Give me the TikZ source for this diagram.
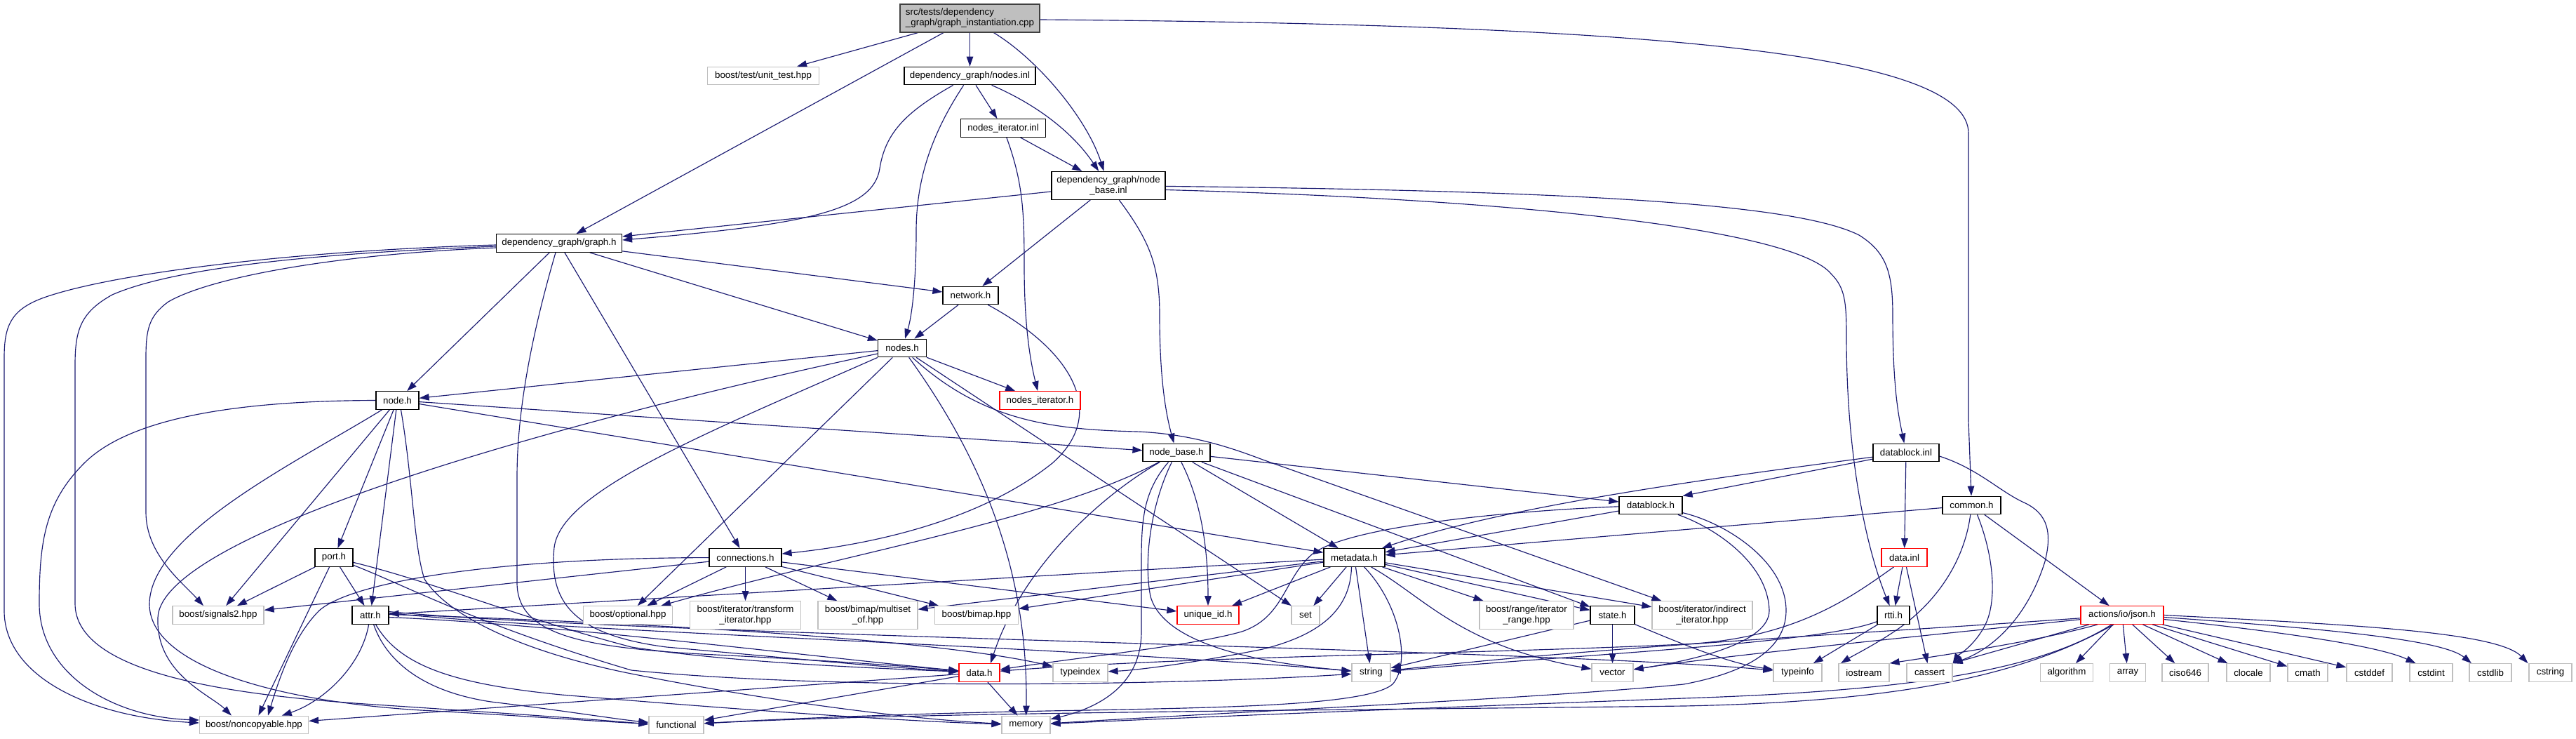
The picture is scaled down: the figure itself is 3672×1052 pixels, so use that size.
\documentclass[tikz,border=0pt]{standalone}
\usepackage{fontspec}
\setmainfont{Liberation Sans}
\usetikzlibrary{arrows.meta}
\definecolor{edgeblue}{HTML}{191970}
\definecolor{extgray}{HTML}{BFBFBF}
\definecolor{truncred}{HTML}{FF0000}
\pgfdeclarelayer{edges}
\pgfsetlayers{edges,main}
\begin{document}
\begin{tikzpicture}[x=1pt,y=-1pt,
  nd/.style={draw=black, line width=1.2pt, fill=white, inner sep=0pt,
    minimum height=25.6pt, font=\fontsize{13.33}{15}\selectfont, align=center},
  ext/.style={nd, draw=extgray},
  trunc/.style={nd, draw=truncred},
  twoline/.style={minimum height=40pt},
  dep/.style={draw=edgeblue, line width=1.15pt, -{Triangle[length=14pt,width=9.5pt]}},
]
\useasboundingbox (0,0) rectangle (3672,1052);
% ---------------- nodes
\node[nd, fill=extgray, draw=black!75, twoline, minimum width=199pt, align=left] (main) at (1382.5,26) {src/tests/dependency\\\_graph/graph\_instantiation.cpp};
\node[ext, minimum width=159pt] (unit_test) at (1088,108) {boost/test/unit\_test.hpp};
\node[nd, minimum width=187pt] (nodes_inl) at (1382.5,108) {dependency\_graph/nodes.inl};
\node[nd, minimum width=121pt] (nodes_iter_inl) at (1430,182.5) {nodes\_iterator.inl};
\node[nd, twoline, minimum width=162pt] (node_base_inl) at (1580,264.5) {dependency\_graph/node\\\_base.inl};
\node[nd, minimum width=179pt] (graph_h) at (797,346.5) {dependency\_graph/graph.h};
\node[nd, minimum width=79pt] (network_h) at (1383.5,421) {network.h};
\node[nd, minimum width=69pt] (nodes_h) at (1286,496) {nodes.h};
\node[trunc, minimum width=115pt] (nodes_iter_h) at (1482.5,570.5) {nodes\_iterator.h};
\node[nd, minimum width=61pt] (node_h) at (566.5,570.5) {node.h};
\node[nd, minimum width=96pt] (node_base_h) at (1677,645) {node\_base.h};
\node[nd, minimum width=94pt] (datablock_inl) at (2717,645) {datablock.inl};
\node[nd, minimum width=83pt] (common_h) at (2810.5,720) {common.h};
\node[nd, minimum width=90pt] (datablock_h) at (2353,720) {datablock.h};
\node[nd, minimum width=54pt] (port_h) at (476,794.5) {port.h};
\node[nd, minimum width=103pt] (connections_h) at (1062.5,794.5) {connections.h};
\node[nd, minimum width=87pt] (metadata_h) at (1930.5,794.5) {metadata.h};
\node[trunc, minimum width=65pt] (data_inl) at (2714.5,794.5) {data.inl};
\node[ext, minimum width=130pt] (signals2) at (311,876.5) {boost/signals2.hpp};
\node[nd, minimum width=52pt] (attr_h) at (528,876.5) {attr.h};
\node[ext, minimum width=127pt] (optional) at (895,876.5) {boost/optional.hpp};
\node[ext, twoline, minimum width=158pt] (transform) at (1062.5,876.7) {boost/iterator/transform\\\_iterator.hpp};
\node[ext, twoline, minimum width=142pt] (multiset) at (1237,876.7) {boost/bimap/multiset\\\_of.hpp};
\node[ext, minimum width=119pt] (bimap) at (1392,876.5) {boost/bimap.hpp};
\node[trunc, minimum width=88pt] (unique_id) at (1722,876.5) {unique\_id.h};
\node[ext, minimum width=40pt] (set) at (1861,876.5) {set};
\node[ext, twoline, minimum width=134pt] (range) at (2176,876.7) {boost/range/iterator\\\_range.hpp};
\node[nd, minimum width=63pt] (state_h) at (2298.5,876.5) {state.h};
\node[ext, twoline, minimum width=143pt] (indirect) at (2426.5,876.7) {boost/iterator/indirect\\\_iterator.hpp};
\node[nd, minimum width=46pt] (rtti_h) at (2699,876.5) {rtti.h};
\node[trunc, minimum width=118pt] (json_h) at (3025,876.5) {actions/io/json.h};
\node[trunc, minimum width=58pt] (data_h) at (1396,958.5) {data.h};
\node[ext, minimum width=78pt] (typeindex) at (1540,958.5) {typeindex};
\node[ext, minimum width=55pt] (string) at (1954.5,958.5) {string};
\node[ext, minimum width=59pt] (vector) at (2298.5,958.5) {vector};
\node[ext, minimum width=69pt] (typeinfo) at (2562.5,958.5) {typeinfo};
\node[ext, minimum width=72pt] (iostream) at (2657,958.5) {iostream};
\node[ext, minimum width=65pt] (cassert) at (2750.5,958.5) {cassert};
\node[ext, minimum width=75pt] (algorithm) at (2946,958.5) {algorithm};
\node[ext, minimum width=51pt] (array) at (3033,958.5) {array};
\node[ext, minimum width=66pt] (ciso646) at (3115,958.5) {ciso646};
\node[ext, minimum width=62pt] (clocale) at (3205,958.5) {clocale};
\node[ext, minimum width=57pt] (cmath) at (3289.5,958.5) {cmath};
\node[ext, minimum width=65pt] (cstddef) at (3377.5,958.5) {cstddef};
\node[ext, minimum width=61pt] (cstdint) at (3465.5,958.5) {cstdint};
\node[ext, minimum width=60pt] (cstdlib) at (3550,958.5) {cstdlib};
\node[ext, minimum width=61pt] (cstring) at (3635.5,958.5) {cstring};
\node[ext, minimum width=155pt] (noncopyable) at (362,1033) {boost/noncopyable.hpp};
\node[ext, minimum width=78pt] (functional) at (964,1033) {functional};
\node[ext, minimum width=69pt] (memory) at (1462.5,1033) {memory};
% ---------------- edges
\begin{pgfonlayer}{edges}
% main
\draw[dep] (main) -- (unit_test);
\draw[dep] (main) -- (graph_h);
\draw[dep] (main) -- (nodes_inl);
\draw[dep] (main) .. controls (1480,85) and (1550,170) .. (node_base_inl);
\draw[dep] ([yshift=-2pt]main.east) .. controls (2400,35) and (2806,80) .. (2806,190) -- (2806,600) -- (common_h);
% nodes.inl
\draw[dep] (nodes_inl) .. controls (1290,160) and (1262,190) .. (1254,240) .. controls (1245,300) and (1150,320) .. ([yshift=4.5pt]graph_h.east);
\draw[dep] (nodes_inl) .. controls (1325,195) and (1306,260) .. (1306,330) .. controls (1306,400) and (1300,450) .. (nodes_h);
\draw[dep] (nodes_inl) -- (nodes_iter_inl);
\draw[dep] (nodes_inl) .. controls (1480,150) and (1530,190) .. (node_base_inl);
% nodes_iterator.inl
\draw[dep] (nodes_iter_inl) -- (node_base_inl);
\draw[dep] (nodes_iter_inl) .. controls (1458,260) and (1460,300) .. (1460,380) .. controls (1460,470) and (1470,520) .. (nodes_iter_h);
% node_base.inl
\draw[dep] (node_base_inl) -- ([yshift=9.5pt]graph_h.east);
\draw[dep] (node_base_inl) -- (network_h);
\draw[dep] (node_base_inl) .. controls (1640,345) and (1653,380) .. (1653,450) .. controls (1653,540) and (1662,590) .. (node_base_h);
\draw[dep] (node_base_inl) .. controls (2250,272) and (2560,290) .. (2650,335) .. controls (2690,360) and (2698,390) .. (2698,450) .. controls (2698,560) and (2708,600) .. (datablock_inl);
\draw[dep] ([yshift=-6pt]node_base_inl.east) .. controls (2200,285) and (2560,330) .. (2610,390) .. controls (2630,410) and (2632,430) .. (2632,480) .. controls (2632,650) and (2660,780) .. (rtti_h);
% graph.h
\draw[dep] (graph_h) -- (network_h);
\draw[dep] (graph_h) -- (nodes_h);
\draw[dep] (graph_h) -- (node_h);
\draw[dep] (graph_h) -- (connections_h);
\draw[dep] ([xshift=-5pt]graph_h.south) .. controls (760,470) and (737,580) .. (737,680) -- (737,830) .. controls (737,905) and (830,922) .. (1000,932) .. controls (1200,942) and (1300,950) .. (data_h);
\draw[dep] ([yshift=-2.5pt]graph_h.west) .. controls (400,358) and (150,392) .. (60,425) .. controls (15,442) and (6,465) .. (6,510) -- (6,870) .. controls (6,965) and (130,1022) .. ([yshift=3pt]noncopyable.west);
\draw[dep] ([yshift=-4.5pt]graph_h.west) .. controls (420,362) and (240,385) .. (160,420) .. controls (115,445) and (107,470) .. (107,520) -- (107,860) .. controls (107,960) and (330,990) .. (520,1003) .. controls (700,1015) and (850,1025) .. ([yshift=1pt]functional.west);
\draw[dep] ([yshift=-6.5pt]graph_h.west) .. controls (480,362) and (300,395) .. (240,430) .. controls (212,450) and (208,470) .. (208,510) -- (208,730) .. controls (208,790) and (260,830) .. ([xshift=-21pt]signals2.north);
% node.h
\draw[dep] (node_h) -- (port_h);
\draw[dep] (node_h) -- (attr_h);
\draw[dep] (node_h) -- (signals2);
\draw[dep] (node_h.west) .. controls (360,571) and (190,590) .. (120,660) .. controls (65,715) and (56,770) .. (56,860) .. controls (56,960) and (160,1022) .. ([yshift=7pt]noncopyable.west);
\draw[dep] (node_h) .. controls (420,660) and (215,760) .. (213,860) .. controls (212,950) and (400,1000) .. (600,1012) .. controls (750,1020) and (850,1028) .. (functional);
\draw[dep] ([xshift=5pt]node_h.south) .. controls (588,680) and (590,780) .. (605,825) .. controls (640,880) and (750,930) .. (900,960) .. controls (1100,1000) and (1300,1025) .. (memory);
\draw[dep] (node_h) -- (node_base_h);
\draw[dep] (node_h) -- (metadata_h);
% nodes.h
\draw[dep] (nodes_h) -- (node_h);
\draw[dep] ([yshift=-8pt]nodes_h.west) .. controls (800,600) and (230,760) .. (225,880) .. controls (222,960) and (300,990) .. ([xshift=-32pt]noncopyable.north);
\draw[dep] (nodes_h) -- (optional);
\draw[dep] (nodes_h) .. controls (1390,640) and (1466,800) .. (memory);
\draw[dep] (nodes_h) -- (set);
\draw[dep] (nodes_h) .. controls (1400,600) and (1500,612) .. (1620,615) .. controls (1700,618) and (1760,640) .. (1800,655) -- (indirect);
\draw[dep] (nodes_h) -- (nodes_iter_h);
\draw[dep] (nodes_h.south west) .. controls (1000,620) and (800,700) .. (790,780) .. controls (782,860) and (820,905) .. (950,922) .. controls (1150,940) and (1250,950) .. (data_h);
% network.h
\draw[dep] (network_h) -- (nodes_h);
\draw[dep] (network_h) .. controls (1530,500) and (1580,590) .. (1500,660) .. controls (1400,740) and (1250,775) .. (connections_h);
% node_base.h
\draw[dep] (node_base_h) -- (metadata_h);
\draw[dep] (node_base_h) -- (datablock_h);
\draw[dep] (node_base_h) -- (state_h);
\draw[dep] (node_base_h) .. controls (1705,700) and (1722,760) .. (unique_id);
\draw[dep] (node_base_h) .. controls (1640,720) and (1630,800) .. (1640,850) .. controls (1660,920) and (1800,945) .. (string);
\draw[dep] (node_base_h) .. controls (1630,700) and (1627,740) .. (1627,800) -- (1627,900) .. controls (1627,980) and (1560,1010) .. (memory);
\draw[dep] (node_base_h) .. controls (1580,700) and (1460,800) .. ([xshift=16pt]data_h.north);
\draw[dep] (node_base_h) .. controls (1500,740) and (1200,790) .. (optional);
% connections.h
\draw[dep] (connections_h) -- (optional);
\draw[dep] (connections_h) -- (transform);
\draw[dep] (connections_h) -- (multiset);
\draw[dep] (connections_h) -- (bimap);
\draw[dep] (connections_h) -- (unique_id);
\draw[dep] (connections_h) -- (signals2);
\draw[dep] (connections_h) .. controls (700,795) and (500,830) .. (455,870) .. controls (420,905) and (400,960) .. ([xshift=20pt]noncopyable.north);
% port.h
\draw[dep] (port_h) -- (signals2);
\draw[dep] (port_h) -- (attr_h);
\draw[dep] (port_h) -- (noncopyable);
\draw[dep] (port_h) .. controls (620,830) and (740,880) .. (900,922) .. controls (1050,945) and (1250,952) .. (data_h);
\draw[dep] (port_h) .. controls (580,835) and (680,890) .. (900,955) .. controls (1200,985) and (1700,975) .. (string);
% attr.h
\draw[dep] (attr_h) .. controls (515,950) and (460,1000) .. (noncopyable);
\draw[dep] (attr_h) .. controls (550,940) and (600,985) .. (700,1000) .. controls (800,1012) and (880,1025) .. (functional);
\draw[dep] (attr_h) .. controls (570,950) and (650,975) .. (800,990) .. controls (1100,1015) and (1300,1028) .. (memory);
\draw[dep] ([yshift=-3pt]attr_h.east) .. controls (800,890) and (1150,935) .. (data_h);
\draw[dep] ([yshift=1pt]attr_h.east) .. controls (1000,890) and (1350,915) .. (typeindex);
\draw[dep] ([yshift=3pt]attr_h.east) .. controls (800,900) and (1500,920) .. (string);
\draw[dep] ([yshift=5pt]attr_h.east) .. controls (900,905) and (2200,925) .. (typeinfo);
% metadata.h
\draw[dep] (metadata_h) -- (attr_h);
\draw[dep] (metadata_h) -- (multiset);
\draw[dep] (metadata_h) -- (bimap);
\draw[dep] (metadata_h) -- (unique_id);
\draw[dep] (metadata_h) -- (set);
\draw[dep] (metadata_h) -- (string);
\draw[dep] (metadata_h) .. controls (2030,850) and (2080,920) .. (vector);
\draw[dep] (metadata_h) -- (range);
\draw[dep] (metadata_h) -- (state_h);
\draw[dep] (metadata_h) -- (indirect);
\draw[dep] ([xshift=-4pt]metadata_h.south) .. controls (1925,870) and (1880,905) .. (1800,925) .. controls (1700,945) and (1620,955) .. (typeindex);
\draw[dep] ([xshift=14pt]metadata_h.south) .. controls (1995,860) and (2012,945) .. (1985,975) .. controls (1950,1005) and (1750,1008) .. (1550,1012) .. controls (1300,1016) and (1100,1025) .. (functional);
% state.h
\draw[dep] (state_h) -- (string);
\draw[dep] (state_h) -- (vector);
\draw[dep] (state_h) .. controls (2380,910) and (2460,945) .. (typeinfo);
% datablock.h
\draw[dep] (datablock_h) -- (metadata_h);
\draw[dep] (datablock_h) .. controls (2150,728) and (1920,750) .. (1870,790) .. controls (1830,825) and (1830,880) .. (1770,900) .. controls (1700,920) and (1550,935) .. (data_h);
\draw[dep] (datablock_h) .. controls (2440,750) and (2520,800) .. (2522,870) .. controls (2522,915) and (2420,940) .. (vector);
\draw[dep] (datablock_h) .. controls (2460,745) and (2546,800) .. (2546,870) .. controls (2546,930) and (2480,960) .. (2400,975) .. controls (2200,995) and (1800,1012) .. (memory);
% datablock.inl
\draw[dep] (datablock_inl) -- (datablock_h.north east);
\draw[dep] (datablock_inl) .. controls (2450,680) and (2150,720) .. (metadata_h);
\draw[dep] (datablock_inl) -- (data_inl);
\draw[dep] ([yshift=-5pt]datablock_inl.east) .. controls (2820,668) and (2850,700) .. (2885,716) .. controls (2920,732) and (2925,760) .. (2915,800) .. controls (2890,880) and (2840,925) .. (cassert.north east);
% common.h
\draw[dep] (common_h) -- (metadata_h);
\draw[dep] (common_h) -- (json_h);
\draw[dep] (common_h) .. controls (2800,800) and (2760,860) .. (2700,900) .. controls (2670,920) and (2640,935) .. ([xshift=-33pt]iostream.north);
\draw[dep] ([xshift=8pt]common_h.south) .. controls (2845,800) and (2845,860) .. (2830,890) .. controls (2815,920) and (2790,935) .. (cassert.north east);
% data.inl
\draw[dep] (data_inl) -- (rtti_h);
\draw[dep] (data_inl) -- (cassert);
\draw[dep] ([xshift=-15pt]data_inl.south) .. controls (2640,850) and (2560,910) .. (2400,918) .. controls (2100,932) and (1700,935) .. (data_h);
% rtti.h
\draw[dep] (rtti_h) -- (typeinfo);
\draw[dep] (rtti_h) .. controls (2600,915) and (2300,930) .. (string);
% actions/io/json.h
\draw[dep] (json_h) -- (algorithm);
\draw[dep] (json_h) -- (array);
\draw[dep] (json_h) -- (ciso646);
\draw[dep] (json_h) -- (clocale);
\draw[dep] (json_h) -- (cmath);
\draw[dep] (json_h) -- (cstddef);
\draw[dep] ([yshift=-6pt]json_h.east) .. controls (3250,900) and (3390,920) .. ([xshift=-22pt]cstdint.north);
\draw[dep] ([yshift=-3pt]json_h.east) .. controls (3300,895) and (3480,910) .. ([xshift=-27pt]cstdlib.north);
\draw[dep] (json_h.east) .. controls (3350,890) and (3560,900) .. ([xshift=-32pt]cstring.north);
\draw[dep] (json_h) .. controls (2700,900) and (2300,920) .. (string);
\draw[dep] (json_h) .. controls (2750,905) and (2450,935) .. (vector);
\draw[dep] ([xshift=-35pt]json_h.south) .. controls (2900,915) and (2760,935) .. (iostream.north east);
\draw[dep] (json_h) -- (cassert.north east);
\draw[dep] ([xshift=-15pt]json_h.south) .. controls (2900,960) and (2700,985) .. (2400,995) .. controls (2000,1010) and (1700,1022) .. (memory);
\draw[dep] ([xshift=-12pt]json_h.south) .. controls (2880,965) and (2700,1000) .. (2400,1006) .. controls (1900,1012) and (1300,1015) .. (functional);
% data.h
\draw[dep] (data_h) -- (noncopyable);
\draw[dep] (data_h) -- (functional);
\draw[dep] (data_h) -- (memory);
\end{pgfonlayer}
\end{tikzpicture}
\end{document}
